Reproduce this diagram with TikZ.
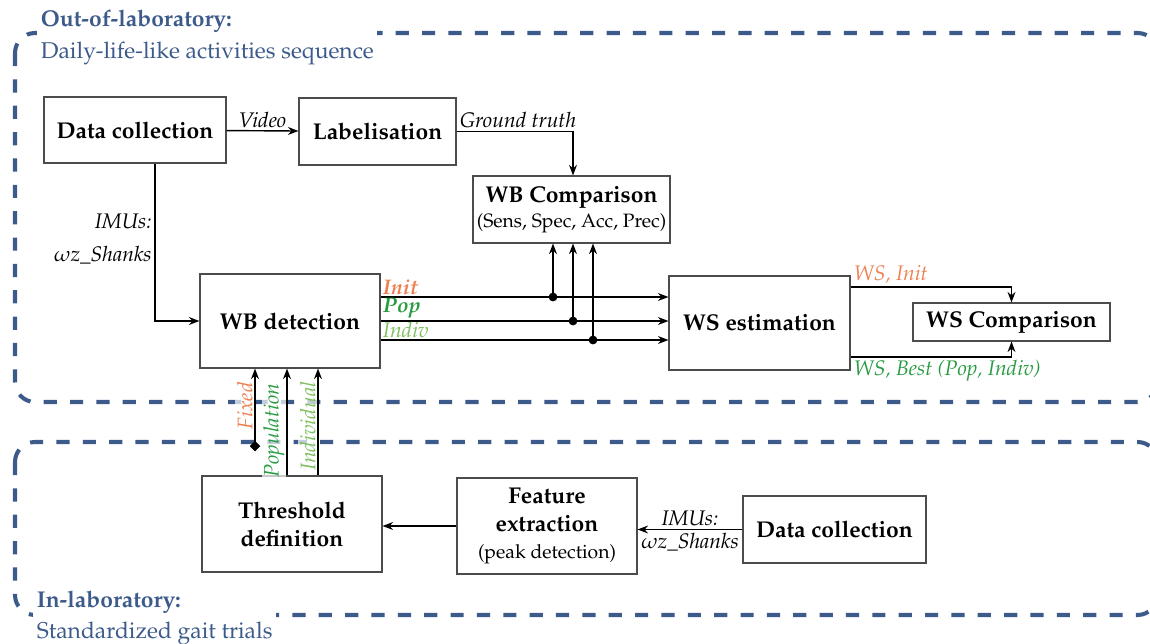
\documentclass[tikz,border=0pt]{standalone}
\usepackage[T1]{fontenc}
\usepackage{mathpazo}
\usepackage{xcolor}
\usepackage{tikz}
\usetikzlibrary{arrows.meta, calc, positioning}
\definecolor{RegionBlue}{RGB}{60, 90, 138}
\definecolor{InitOrange}{RGB}{238, 128, 82}
\definecolor{PopGreen}{RGB}{40, 155, 65}
\definecolor{IndivGreen}{RGB}{125, 190, 95}

\begin{document}
\begin{tikzpicture}[
        block/.style = {draw=black!70, line width=0.6pt, minimum width=3.6cm, minimum height=1.88cm, align=center, inner sep=2pt, font=\fontsize{13}{16}\selectfont\bfseries},
        line/.style = {draw, line width=0.8pt, -{Stealth[length=6pt, width=4.5pt]}},
        region/.style = {draw=RegionBlue, line width=2.3pt, dash pattern=on 7.5pt off 7.5pt, rounded corners=0.4cm},
        regiontitle/.style = {fill=white, text=RegionBlue, align=left, inner sep=2pt, font=\fontsize{13}{18}\selectfont},
        lbl/.style = {font=\fontsize{12}{14}\selectfont\itshape, inner sep=1.5pt},
        thrlbl/.style = {lbl, fill=white, fill opacity=0.7, text opacity=1, inner sep=1pt},
        dot/.style = {circle, fill, inner sep=0pt, minimum size=5pt}
    ]
        \useasboundingbox (0,0) rectangle (23,-12.88);

        % Regions
        \draw [region] (0.30,-0.66) rectangle (23.15,-8.04);
        \draw [region] (0.30,-8.84) rectangle (23.15,-12.30);
        \node (outlab) [regiontitle, anchor=north west] at (0.74,-0.13) {\textbf{Out-of-laboratory:}\\ Daily-life-like activities sequence};
        \node (inlab) [regiontitle, anchor=south west] at (0.66,-12.98) {\textbf{In-laboratory:}\\ Standardized gait trials};

        % Out-of-laboratory blocks
        \node (datacoll) [block, minimum width=3.64cm, minimum height=1.32cm] at (2.70,-2.60) {Data collection};
        \node (labelis) [block, minimum width=3.14cm, minimum height=1.34cm] at (7.55,-2.63) {Labelisation};
        \node (wbcomp) [block, minimum width=3.94cm, minimum height=1.34cm] at (11.43,-4.19) {WB Comparison\\[-2pt] {\mdseries\fontsize{11}{13}\selectfont (Sens, Spec, Acc, Prec)}};
        \node (wbdet) [block] at (5.80,-6.42) {WB detection};
        \node (wsest) [block, minimum width=3.62cm] at (15.19,-6.46) {WS estimation};
        \node (wscomp) [block, minimum width=3.94cm, minimum height=0.76cm] at (20.23,-6.44) {WS Comparison};

        % In-laboratory blocks
        \node (thresh) [block, minimum height=1.92cm] at (5.84,-10.48) {Threshold\\ definition};
        \node (featext) [block, minimum height=1.92cm] at (10.94,-10.52) {Feature\\ extraction\\[-1pt] {\mdseries\fontsize{11}{13}\selectfont (peak detection)}};
        \node (datacollab) [block, minimum width=3.66cm, minimum height=1.34cm] at (16.69,-10.59) {Data collection};

        % Video and ground truth
        \draw [line] (datacoll) -- node [lbl, above] {Video} (labelis);
        \draw [line] (labelis.east) -| node [lbl, pos=0, above right] {Ground truth} ([xshift=0.03cm]wbcomp.north);

        % IMUs to WB detection
        \draw [line] ([xshift=0.4cm]datacoll.south) |- node [lbl, pos=0.24, left, align=right] {IMUs:\\[5pt] $\omega$z\_Shanks} (wbdet.west);

        % WB detection outputs
        \coordinate (initout) at ([yshift=0.48cm]wbdet.east);
        \coordinate (popout) at (wbdet.east);
        \coordinate (indivout) at ([yshift=-0.38cm]wbdet.east);
        \draw [line] (initout) -- node [pos=0, above right, inner sep=1pt, font=\fontsize{12}{13}\selectfont\bfseries\itshape, text=InitOrange] {Init} (initout -| wsest.west);
        \draw [line] (popout) -- node [pos=0, above right, inner sep=1pt, font=\fontsize{12}{13}\selectfont\bfseries\itshape, text=PopGreen] {Pop} (popout -| wsest.west);
        \draw [line] (indivout) -- node [pos=0, above right, inner sep=1pt, font=\fontsize{12}{13}\selectfont\itshape, text=IndivGreen] {Indiv} (indivout -| wsest.west);

        % Branches to WB comparison
        \coordinate (initcmp) at ([xshift=-0.37cm]wbcomp.south);
        \coordinate (popcmp) at ([xshift=0.03cm]wbcomp.south);
        \coordinate (indivcmp) at ([xshift=0.43cm]wbcomp.south);
        \node (initdot) [dot] at (initcmp |- initout) {};
        \node (popdot) [dot] at (popcmp |- popout) {};
        \node (indivdot) [dot] at (indivcmp |- indivout) {};
        \draw [line] (initdot.center) -- (initcmp);
        \draw [line] (popdot.center) -- (popcmp);
        \draw [line] (indivdot.center) -- (indivcmp);

        % WS estimation to WS comparison
        \draw [line] ([yshift=0.72cm]wsest.east) -| node [lbl, pos=0, above right, text=InitOrange] {WS, Init} (wscomp.north);
        \draw [line] ([yshift=-0.68cm]wsest.east) -| node [lbl, pos=0, below right, text=PopGreen] {WS, Best (Pop, Indiv)} (wscomp.south);

        % Thresholds to WB detection
        \coordinate (fixedin) at ([xshift=-0.70cm]wbdet.south);
        \coordinate (popin) at ([xshift=-0.06cm]wbdet.south);
        \coordinate (indivin) at ([xshift=0.56cm]wbdet.south);
        \coordinate (fixedsrc) at ([yshift=0.48cm]fixedin |- thresh.north);
        \draw [line, {Diamond[length=6pt, width=6pt]}-{Stealth[length=6pt, width=4.5pt]}] (fixedsrc) -- node [thrlbl, sloped, above, pos=0.55, text=InitOrange] {Fixed} (fixedin);
        \draw [line] (popin |- thresh.north) -- node [thrlbl, sloped, above, pos=0.42, text=PopGreen] {Population} (popin);
        \draw [line] (indivin |- thresh.north) -- node [thrlbl, sloped, above, pos=0.46, text=IndivGreen] {Individual} (indivin);

        % In-laboratory chain
        \draw [line] (featext.west) -- (featext.west -| thresh.east);
        \draw [line] (datacollab.west) -- node [lbl, above] {IMUs:} node [lbl, below] {$\omega$z\_Shanks} (datacollab.west -| featext.east);

    \end{tikzpicture}
\end{document}
